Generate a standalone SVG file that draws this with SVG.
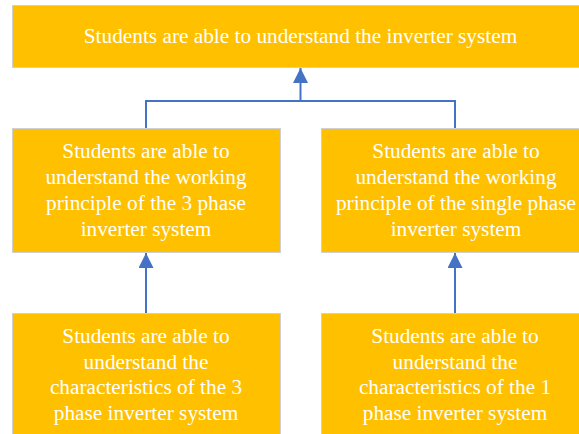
<svg xmlns="http://www.w3.org/2000/svg" width="579" height="434" viewBox="0 0 579 434">
  <style>
    .box { fill: #FFC000; stroke: #D0D0D0; stroke-width: 1; }
    .lbl { fill: #FFFFFF; font-family: 'Liberation Serif', serif; font-size: 21.3px; text-anchor: middle; }
    .wire { fill: none; stroke: #4472C4; stroke-width: 2; }
  </style>
  <defs>
    <marker id="tip" viewBox="0 0 10 10" refX="10" refY="5" markerWidth="7.5" markerHeight="7.5" markerUnits="strokeWidth" orient="auto">
      <path d="M0,0 L10,5 L0,10 Z" fill="#4472C4"/>
    </marker>
  </defs>
  <rect width="579" height="434" fill="#FFFFFF"/>

  <g id="goal">
    <rect class="box" x="12.5" y="5.5" width="580" height="62"/>
    <text class="lbl" x="300.5" y="43">Students are able to understand the inverter system</text>
  </g>

  <g id="three-phase-principle">
    <rect class="box" x="12.5" y="128.5" width="268" height="124"/>
    <text class="lbl" x="146" y="158">Students are able to</text>
    <text class="lbl" x="146" y="184">understand the working</text>
    <text class="lbl" x="146" y="210">principle of the 3 phase</text>
    <text class="lbl" x="146" y="236">inverter system</text>
  </g>

  <g id="single-phase-principle">
    <rect class="box" x="321.5" y="128.5" width="270" height="124"/>
    <text class="lbl" x="456" y="158">Students are able to</text>
    <text class="lbl" x="456" y="184">understand the working</text>
    <text class="lbl" x="456" y="210">principle of the single phase</text>
    <text class="lbl" x="456" y="236">inverter system</text>
  </g>

  <g id="three-phase-characteristics">
    <rect class="box" x="12.5" y="313.5" width="268" height="130"/>
    <text class="lbl" x="146" y="343">Students are able to</text>
    <text class="lbl" x="146" y="369">understand the</text>
    <text class="lbl" x="146" y="394">characteristics of the 3</text>
    <text class="lbl" x="146" y="420">phase inverter system</text>
  </g>

  <g id="single-phase-characteristics">
    <rect class="box" x="321.5" y="313.5" width="270" height="130"/>
    <text class="lbl" x="455" y="343">Students are able to</text>
    <text class="lbl" x="455" y="369">understand the</text>
    <text class="lbl" x="455" y="394">characteristics of the 1</text>
    <text class="lbl" x="455" y="420">phase inverter system</text>
  </g>

  <g id="connectors">
    <path class="wire" d="M146,128 V101 H455 V128"/>
    <path class="wire" d="M300.5,101 V68" marker-end="url(#tip)"/>
    <path class="wire" d="M146,313 V253" marker-end="url(#tip)"/>
    <path class="wire" d="M455,313 V253" marker-end="url(#tip)"/>
  </g>
</svg>
